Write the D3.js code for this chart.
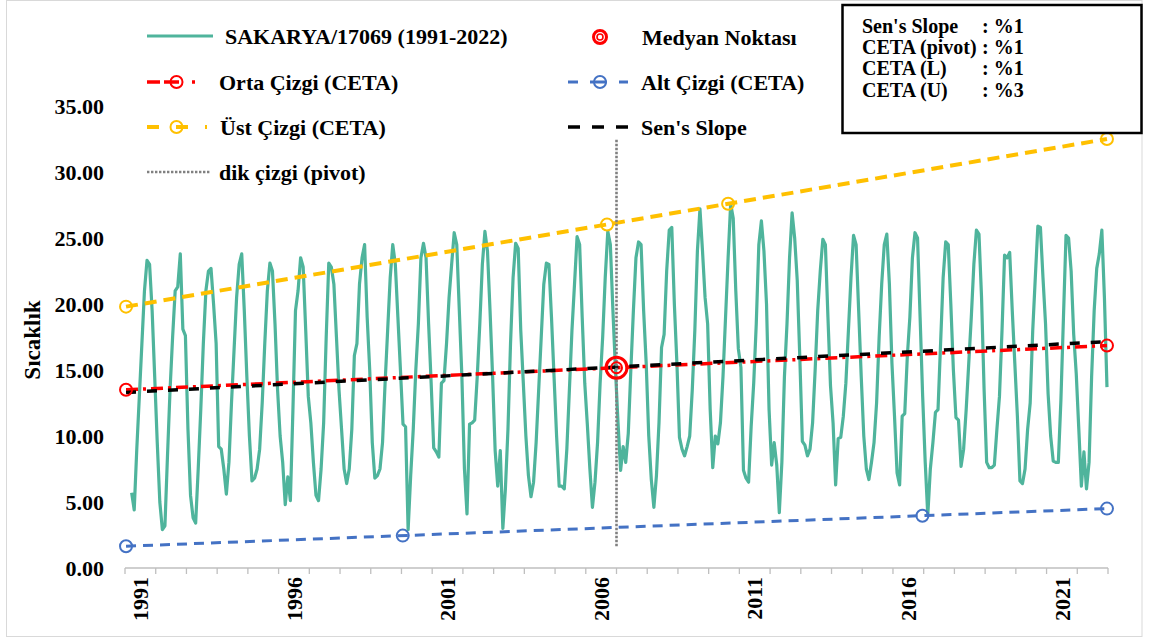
<!DOCTYPE html>
<html><head><meta charset="utf-8">
<script src="https://cdn.jsdelivr.net/npm/d3@7"></script>
<style>
body{margin:0;background:#fff}
svg{display:block}
text{font-family:"Liberation Serif","Times New Roman",serif;font-weight:bold;fill:#000}
</style>
</head><body>
<svg id="c" width="1150" height="641"></svg>
<script>
// ---------------- DATA ----------------
const seriesName = "SAKARYA/17069 (1991-2022)";
const firstYear = 1991;
const nYears = 32;                       // 1991..2022 on the axis
const yearLabels = [1991, 1996, 2001, 2006, 2011, 2016, 2021];
const yTicks = [0, 5, 10, 15, 20, 25, 30, 35];
const axisStartMonth = -2.6;            // month index at the first axis tick (Jan 1991 = 0)

// monthly mean temperature, Jan 1991 ...
const sicaklik = [
  5.7, 4.4, 9.0, 13.0, 17.0, 21.0, 23.3, 23.0, 19.5, 14.5, 9.5, 5.0,      // 1991
  2.9, 3.2, 8.5, 13.5, 17.5, 21.0, 21.3, 23.8, 18.1, 17.6, 10.5, 5.5,     // 1992
  3.8, 3.4, 7.5, 12.0, 17.0, 21.0, 22.5, 22.7, 20.0, 17.0, 9.2, 9.0,      // 1993
  7.5, 5.6, 8.0, 12.5, 16.5, 20.5, 23.0, 23.8, 19.5, 14.5, 10.0, 6.6,     // 1994
  6.8, 7.5, 9.0, 12.5, 17.0, 21.0, 23.1, 22.5, 18.5, 13.5, 10.0, 8.0,     // 1995
  4.8, 6.9, 5.1, 12.0, 19.5, 21.0, 23.5, 22.8, 18.0, 13.0, 11.0, 8.0,     // 1996
  5.5, 5.1, 7.5, 11.0, 17.5, 23.1, 22.8, 21.5, 17.5, 13.5, 10.5, 7.5,     // 1997
  6.4, 7.5, 10.5, 16.1, 17.0, 21.5, 23.5, 24.5, 19.0, 15.0, 9.5, 6.8,     // 1998
  7.0, 7.5, 9.5, 14.0, 18.0, 22.0, 24.5, 23.0, 19.0, 15.0, 10.9, 10.7,    // 1999
  2.9, 7.0, 10.5, 15.0, 18.5, 23.5, 24.6, 23.5, 18.5, 14.0, 9.1, 8.8,     // 2000
  8.4, 14.0, 14.2, 17.0, 20.5, 23.0, 25.4, 24.5, 19.5, 14.5, 7.5, 4.1,    // 2001
  10.9, 11.0, 11.2, 14.5, 18.5, 23.0, 25.5, 24.0, 19.5, 14.5, 8.9, 6.2,   // 2002
  8.9, 3.0, 6.0, 10.5, 17.0, 22.0, 24.6, 24.2, 18.0, 14.0, 10.0, 7.0,     // 2003
  5.4, 6.5, 9.5, 13.5, 17.5, 21.5, 23.1, 23.0, 19.0, 14.5, 10.0, 6.2,     // 2004
  6.2, 6.0, 9.0, 13.5, 18.0, 21.5, 25.1, 24.5, 19.0, 14.0, 10.9, 7.5,     // 2005
  4.6, 6.5, 9.5, 14.0, 17.5, 22.0, 25.5, 24.5, 19.5, 15.0, 11.0, 7.4,     // 2006
  9.2, 8.0, 10.2, 15.0, 19.5, 23.5, 24.7, 24.5, 19.5, 15.5, 10.0, 6.7,    // 2007
  4.6, 7.0, 11.0, 16.7, 17.7, 22.5, 25.6, 25.8, 20.0, 15.5, 9.9, 9.0,     // 2008
  8.5, 9.2, 10.0, 13.5, 18.0, 24.0, 27.2, 24.0, 20.5, 18.5, 12.0, 7.6,    // 2009
  10.0, 9.4, 11.0, 14.5, 19.0, 23.5, 27.6, 26.5, 21.0, 16.6, 15.2, 7.4,   // 2010
  6.8, 6.5, 10.7, 14.0, 18.5, 24.5, 26.3, 24.0, 20.0, 12.0, 7.8, 9.5,     // 2011
  7.8, 4.2, 8.0, 14.5, 18.5, 23.5, 26.9, 25.0, 21.8, 16.0, 9.6, 9.3,      // 2012
  8.5, 9.0, 11.0, 15.0, 19.5, 22.5, 24.9, 24.5, 19.0, 13.8, 11.0, 6.3,    // 2013
  9.8, 9.9, 11.5, 14.0, 18.0, 22.0, 25.2, 24.5, 19.5, 14.5, 10.0, 7.5,    // 2014
  6.7, 8.0, 9.5, 12.5, 17.5, 21.5, 24.5, 25.3, 21.5, 15.5, 11.5, 7.2,     // 2015
  6.3, 11.5, 11.7, 16.0, 19.0, 23.5, 25.4, 25.0, 19.0, 13.0, 8.0, 4.0,    // 2016
  7.5, 9.5, 11.8, 12.0, 17.0, 22.0, 24.7, 24.5, 20.0, 15.0, 11.4, 11.2,   // 2017
  7.7, 9.0, 12.0, 15.5, 19.0, 23.0, 25.6, 25.3, 20.5, 13.5, 8.0, 7.6,     // 2018
  7.6, 7.8, 10.5, 13.0, 18.0, 23.7, 23.5, 23.9, 19.5, 15.5, 11.5, 6.6,    // 2019
  6.4, 7.5, 10.5, 12.5, 18.0, 22.0, 25.9, 25.8, 22.0, 18.5, 13.2, 10.0,   // 2020
  8.1, 8.0, 8.0, 12.7, 19.0, 25.2, 25.0, 22.5, 17.7, 14.7, 10.5, 6.2,     // 2021
  8.8, 6.0, 8.0, 14.5, 19.5, 22.7, 23.8, 25.6, 20.5, 13.7                 // 2022
];

// CETA / Sen lines: value at start and end of the trend span (month index)
const trendSpan = [-2.2, 381];
const ortaCizgi = [13.5, 16.85];   // Orta Çizgi (CETA)
const ustCizgi  = [19.8, 32.5];    // Üst Çizgi (CETA)
const altCizgi  = [1.65, 4.5];     // Alt Çizgi (CETA)
const sensSlope = [13.3, 17.15];   // Sen's Slope
const ustTouch  = [185.7, 233.0];  // extra markers on upper line (month index)
const altTouch  = [105.9, 308.9];  // extra markers on lower line (month index)
const medyan    = {month: 189.4, value: 15.17};

const infoLabels = ["Sen's Slope", "CETA (pivot)", "CETA (L)", "CETA (U)"];
const infoValues = [": %1", ": %1", ": %1", ": %3"];

// ---------------- DRAW ----------------
const svg = d3.select("#c");
const W = 1150, H = 641;
const plot = {left: 125, right: 1108, top: 106, bottom: 568};

const x = d3.scaleLinear()
  .domain([axisStartMonth, axisStartMonth + nYears * 12])
  .range([plot.left, plot.right]);
const y = d3.scaleLinear().domain([0, 35]).range([plot.bottom, plot.top]);

const C = {teal: "#4fb49c", red: "#ff0000", gold: "#ffc000", blue: "#4472c4", black: "#000", grey: "#808080"};

// outer frame
svg.append("rect").attr("x", 6.5).attr("y", 0.5).attr("width", 1135.5).attr("height", 636)
  .attr("fill", "#fff").attr("stroke", "#d9d9d9").attr("stroke-width", 1);

// y axis labels
svg.append("g").selectAll("text").data(yTicks).join("text")
  .attr("x", 104).attr("y", d => y(d)).attr("dy", "0.35em")
  .attr("text-anchor", "end").attr("font-size", 22)
  .text(d => d3.format(".2f")(d));

// y title
svg.append("text").attr("transform", "translate(40,340) rotate(-90)")
  .attr("text-anchor", "middle").attr("font-size", 23).text("Sıcaklık");

// x axis line + ticks
const tickMonths = d3.range(nYears + 1).map(k => axisStartMonth + 12 * k);
svg.append("line").attr("x1", x(tickMonths[0])).attr("x2", x(tickMonths[nYears]))
  .attr("y1", y(0)).attr("y2", y(0)).attr("stroke", "#bfbfbf").attr("stroke-width", 1.3);
svg.append("g").selectAll("line").data(tickMonths).join("line")
  .attr("x1", d => x(d)).attr("x2", d => x(d)).attr("y1", y(0)).attr("y2", y(0) + 6)
  .attr("stroke", "#bfbfbf").attr("stroke-width", 1.3);
svg.append("g").selectAll("text").data(yearLabels).join("text")
  .attr("transform", d => `translate(${x(axisStartMonth + (d - firstYear) * 12 + 6)},577) rotate(-90)`)
  .attr("text-anchor", "end").attr("dy", "0.35em").attr("font-size", 22)
  .text(d => d);

// series
const line = d3.line().x((d, i) => x(i)).y(d => y(d));
svg.append("path").datum(sicaklik).attr("d", line)
  .attr("fill", "none").attr("stroke", C.teal).attr("stroke-width", 3.2)
  .attr("stroke-linejoin", "round");

// trend lines
function trendVal(tr, m) {
  return tr[0] + (tr[1] - tr[0]) * (m - trendSpan[0]) / (trendSpan[1] - trendSpan[0]);
}
function trendLine(tr, color, width, dash) {
  svg.append("line")
    .attr("x1", x(trendSpan[0])).attr("y1", y(tr[0]))
    .attr("x2", x(trendSpan[1])).attr("y2", y(tr[1]))
    .attr("stroke", color).attr("stroke-width", width).attr("stroke-dasharray", dash);
}
trendLine(ustCizgi, C.gold, 4, "12,7");
trendLine(altCizgi, C.blue, 3, "10,7");
trendLine(ortaCizgi, C.red, 3.5, "12,5,3,5");
trendLine(sensSlope, C.black, 3.5, "10,11");

function markers(tr, months, color) {
  svg.append("g").selectAll("circle").data(months).join("circle")
    .attr("cx", m => x(m)).attr("cy", m => y(trendVal(tr, m))).attr("r", 6)
    .attr("fill", "none").attr("stroke", color).attr("stroke-width", 2);
}
markers(ustCizgi, [trendSpan[0], ...ustTouch, trendSpan[1]], C.gold);
markers(altCizgi, [trendSpan[0], ...altTouch, trendSpan[1]], C.blue);
markers(ortaCizgi, [trendSpan[0], trendSpan[1]], C.red);

// pivot vertical line
svg.append("line").attr("x1", x(medyan.month)).attr("x2", x(medyan.month))
  .attr("y1", y(altCizgi[0])).attr("y2", y(ustCizgi[1]))
  .attr("stroke", C.grey).attr("stroke-width", 2.6).attr("stroke-dasharray", "2.4,1.6");

// median point
svg.append("circle").attr("cx", x(medyan.month)).attr("cy", y(medyan.value)).attr("r", 10.5)
  .attr("fill", "none").attr("stroke", C.red).attr("stroke-width", 3);
svg.append("circle").attr("cx", x(medyan.month)).attr("cy", y(medyan.value)).attr("r", 5.5)
  .attr("fill", "none").attr("stroke", C.red).attr("stroke-width", 2);

// ---------------- LEGEND ----------------
const lg = svg.append("g");
function legLine(x1, x2, yy, color, width, dash) {
  lg.append("line").attr("x1", x1).attr("x2", x2).attr("y1", yy).attr("y2", yy)
    .attr("stroke", color).attr("stroke-width", width).attr("stroke-dasharray", dash || null);
}
function legCircle(cx, cy, color) {
  lg.append("circle").attr("cx", cx).attr("cy", cy).attr("r", 6)
    .attr("fill", "none").attr("stroke", color).attr("stroke-width", 2);
}
function legText(tx, ty, s) {
  lg.append("text").attr("x", tx).attr("y", ty + 7.5).attr("font-size", 22).text(s);
}
// col 1
legLine(147, 213, 36, C.teal, 3.2);
legText(225, 36, seriesName);
legLine(147, 213, 82, C.red, 3.5, "13,4,15,13,3,20");
legCircle(176.5, 82, C.red);
legText(219, 82, "Orta Çizgi (CETA)");
legLine(147, 207, 127, C.gold, 4, "12,17,12,17,12");
legCircle(176.5, 127, C.gold);
legText(220, 127, "Üst Çizgi (CETA)");
legLine(147, 210, 172, C.grey, 2.6, "2.4,1.6");
legText(219, 172, "dik çizgi (pivot)");
// col 2
lg.append("circle").attr("cx", 600).attr("cy", 37).attr("r", 6.5).attr("fill", "none")
  .attr("stroke", C.red).attr("stroke-width", 3);
lg.append("circle").attr("cx", 600).attr("cy", 37).attr("r", 3).attr("fill", "none")
  .attr("stroke", C.red).attr("stroke-width", 1.6);
legText(642, 37, "Medyan Noktası");
legLine(568, 628, 82, C.blue, 3, "10,12,17,12,10");
legCircle(600, 82, C.blue);
legText(641, 82, "Alt Çizgi (CETA)");
legLine(568, 628, 127, C.black, 3.5, "12,12");
legText(641, 127, "Sen's Slope");

// ---------------- INFO BOX ----------------
svg.append("rect").attr("x", 842.5).attr("y", 5).attr("width", 299).attr("height", 128)
  .attr("fill", "#fff").attr("stroke", "#000").attr("stroke-width", 2.5);
const ib = svg.append("g");
ib.selectAll("text.l").data(infoLabels).join("text").attr("class", "l")
  .attr("x", 862).attr("y", (d, i) => 33 + i * 21.2).attr("font-size", 20).text(d => d);
ib.selectAll("text.v").data(infoValues).join("text").attr("class", "v")
  .attr("x", 982).attr("y", (d, i) => 33 + i * 21.2).attr("font-size", 20).text(d => d);
</script>
</body></html>
